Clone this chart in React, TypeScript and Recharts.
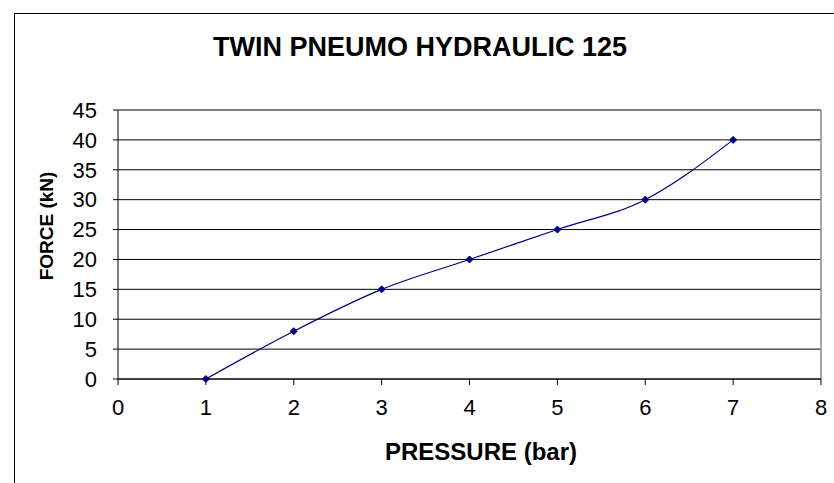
import { LineChart, Line, XAxis, YAxis, CartesianGrid, ReferenceLine } from 'recharts'

const pressure = [1, 2, 3, 4, 5, 6, 7]
const force = [0, 8, 15, 20, 25, 30, 40]
const xTicks = [0, 1, 2, 3, 4, 5, 6, 7, 8]
const yTicks = [0, 5, 10, 15, 20, 25, 30, 35, 40, 45]

const data = pressure.map((p, i) => ({ pressure: p, force: force[i] }))

const font = '"Liberation Sans", Arial, sans-serif'

function Diamond(props: any) {
  const { cx, cy } = props
  if (cx == null || cy == null) return null
  const r = 3.5
  return (
    <polygon
      points={`${cx},${cy - r} ${cx + r},${cy} ${cx},${cy + r} ${cx - r},${cy}`}
      fill="#000080"
      stroke="#000080"
    />
  )
}

export default function App() {
  return (
    <div style={{ position: 'absolute', left: 0, top: 0, width: 834, height: 483, background: '#fff', overflow: 'hidden', fontFamily: font }}>
      <div style={{ position: 'absolute', left: 14, top: 13, width: 900, height: 600, border: '1px solid #000' }} />
      <div style={{ position: 'absolute', left: 0, top: 32, width: 840, textAlign: 'center', fontSize: 27, fontWeight: 'bold', lineHeight: 1.15 }}>
        TWIN PNEUMO HYDRAULIC 125
      </div>
      <div style={{ position: 'absolute', left: 181, top: 438, width: 600, textAlign: 'center', fontSize: 24, fontWeight: 'bold', lineHeight: 1.15 }}>
        PRESSURE (bar)
      </div>
      <div style={{ position: 'absolute', left: 47, top: 226, width: 0, height: 0 }}>
        <div style={{ position: 'absolute', transform: 'translate(-50%, -50%) rotate(-90deg)', whiteSpace: 'nowrap', fontSize: 19, fontWeight: 'bold' }}>
          FORCE (kN)
        </div>
      </div>
      <div style={{ position: 'absolute', left: 0, top: 0 }}>
        <LineChart width={834} height={483} data={data} margin={{ top: 110, right: 13, bottom: 74, left: 58 }}>
          <CartesianGrid vertical={false} stroke="#000" strokeWidth={1} />
          <XAxis
            type="number"
            dataKey="pressure"
            domain={[0, 8]}
            ticks={xTicks}
            interval={0}
            height={30}
            stroke="#000"
            tickSize={6}
            tickMargin={14}
            tick={{ fill: '#000', fontSize: 22, fontFamily: font }}
          />
          <YAxis
            type="number"
            domain={[0, 45]}
            ticks={yTicks}
            interval={0}
            width={60}
            stroke="#000"
            tickSize={5}
            tickMargin={16}
            tick={{ fill: '#000', fontSize: 22, fontFamily: font }}
          />
          <ReferenceLine x={8} stroke="#888" strokeWidth={1.5} />
          <Line
            type="monotone"
            dataKey="force"
            stroke="#000080"
            strokeWidth={1.2}
            dot={<Diamond />}
            activeDot={false}
            isAnimationActive={false}
          />
        </LineChart>
      </div>
    </div>
  )
}
